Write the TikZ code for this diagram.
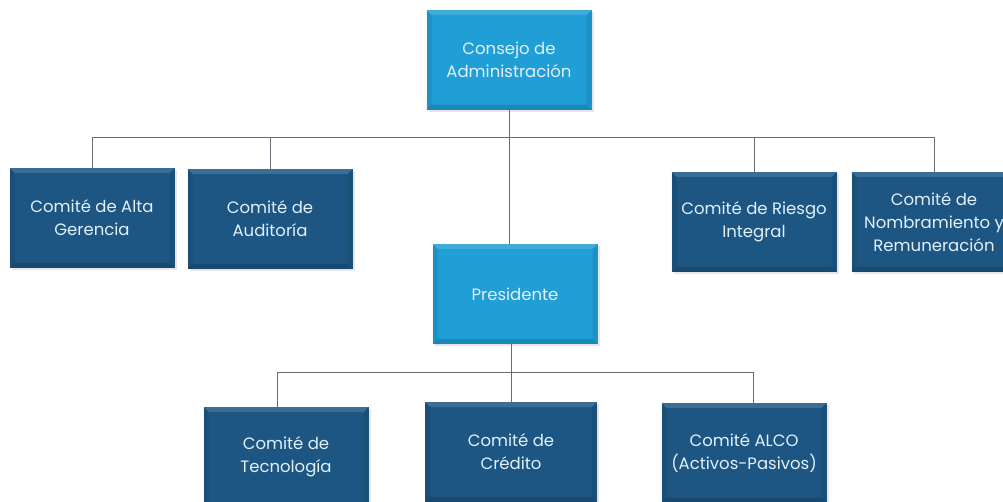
\documentclass[tikz,border=0pt]{standalone}
\usepackage{fontspec}
\setmainfont{Poppins}
\usepackage{tikz}
\usetikzlibrary{shadows}

\definecolor{headblue}{RGB}{32,158,214}
\definecolor{comblue}{RGB}{29,86,131}
\definecolor{linegray}{RGB}{105,108,118}
\definecolor{textlight}{RGB}{226,240,250}

\begin{document}
\begin{tikzpicture}[
    x=1pt, y=-1pt,
    every node/.style={rectangle, minimum width=165pt, minimum height=100pt, inner sep=0pt,
        align=center, text=textlight, font=\fontsize{16.5}{23}\selectfont},
    bevel/.style={drop shadow={opacity=0.2, shadow xshift=2pt, shadow yshift=-2pt},
        path picture={
            \fill[white, opacity=0.14] (path picture bounding box.north west) -- (path picture bounding box.north east)
                -- ([xshift=-5pt, yshift=-5pt]path picture bounding box.north east)
                -- ([xshift=5pt, yshift=-5pt]path picture bounding box.north west) -- cycle;
            \fill[black, opacity=0.14] (path picture bounding box.south west) -- (path picture bounding box.south east)
                -- ([xshift=-5pt, yshift=5pt]path picture bounding box.south east)
                -- ([xshift=5pt, yshift=5pt]path picture bounding box.south west) -- cycle;
            \fill[black, opacity=0.08] (path picture bounding box.north west) -- ([xshift=5pt, yshift=-5pt]path picture bounding box.north west)
                -- ([xshift=5pt, yshift=5pt]path picture bounding box.south west) -- (path picture bounding box.south west) -- cycle;
            \fill[black, opacity=0.08] (path picture bounding box.north east) -- ([xshift=-5pt, yshift=-5pt]path picture bounding box.north east)
                -- ([xshift=-5pt, yshift=5pt]path picture bounding box.south east) -- (path picture bounding box.south east) -- cycle;
        }},
    head node/.style={fill=headblue, bevel},
    committee node/.style={fill=comblue, bevel},
    conn/.style={draw=linegray, line width=0.8pt}
    ]

    \useasboundingbox (0,0) rectangle (1003,502);

    % Nodes
    \node[head node] (cons) at (509,60) {Consejo de\\Administración};
    \node[head node] (pres) at (515,294) {Presidente};

    \node[committee node] (alta) at (92,218) {Comité de Alta\\Gerencia};
    \node[committee node] (aud) at (270,219) {Comité de\\Auditoría};
    \node[committee node] (riesgo) at (754,222) {Comité de Riesgo\\Integral};
    \node[committee node] (nomb) at (934,222) {Comité de\\Nombramiento y\\Remuneración};

    \node[committee node] (tec) at (286,457) {Comité de\\Tecnología};
    \node[committee node, minimum width=172pt] (cred) at (511,452) {Comité de\\Crédito};
    \node[committee node] (alco) at (744,453) {Comité ALCO\\(Activos-Pasivos)};

    \coordinate (topbus) at (0,137);
    \coordinate (lowbus) at (0,372);

    % Connections
    \draw[conn] (cons.south) -- (cons.south |- pres.north);

    \foreach \j in {alta, aud, riesgo, nomb}
        \draw[conn] (\j.north) |- (cons.south |- topbus);

    \draw[conn] ([xshift=-9pt]tec.north) |- (cred.north |- lowbus);
    \draw[conn] (cred.north) |- (cred.north |- lowbus);
    \draw[conn] ([xshift=9pt]alco.north) |- (cred.north |- lowbus);

    \draw[conn] (pres.south -| cred.north) -- (cred.north);

\end{tikzpicture}
\end{document}
